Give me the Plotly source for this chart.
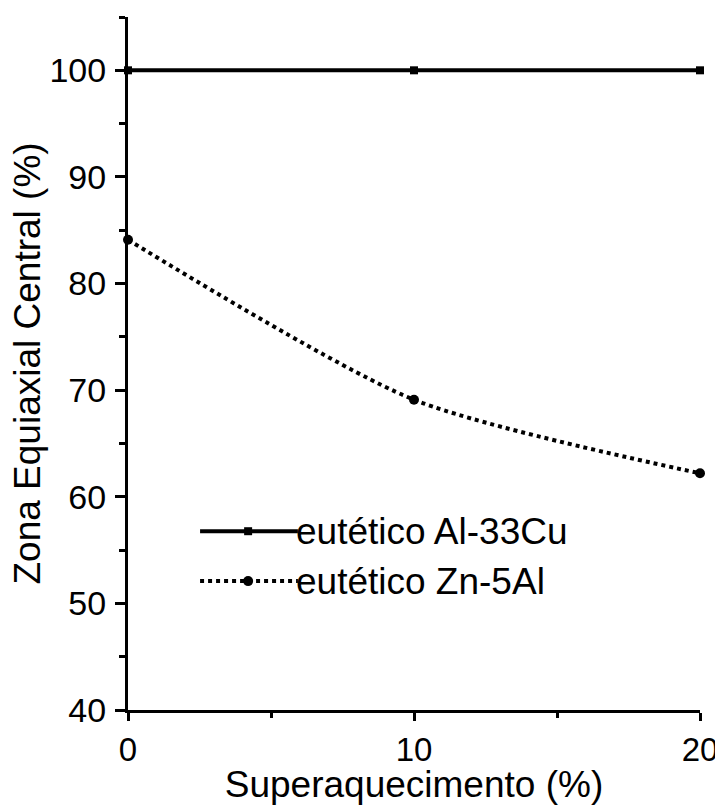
import plotly.graph_objects as go

superaquecimento = [0, 10, 20]
al33cu = [100, 100, 100]
zn5al = [84.1, 69.1, 62.2]
nomes = ["eutético Al-33Cu", "eutético Zn-5Al"]

FONT = "Liberation Sans, Arial, sans-serif"

fig = go.Figure()
fig.add_trace(go.Scatter(
    x=superaquecimento, y=al33cu, mode="lines+markers", name=nomes[0],
    line=dict(color="black", width=4),
    marker=dict(symbol="square", size=8, color="black"),
    cliponaxis=False, showlegend=False))
fig.add_trace(go.Scatter(
    x=superaquecimento, y=zn5al, mode="lines+markers", name=nomes[1],
    line=dict(color="black", width=4, dash="4px,4px", shape="spline", smoothing=0.7),
    marker=dict(symbol="circle", size=10, color="black"),
    cliponaxis=False, showlegend=False))

# manual legend (paper coordinates)
lx0, lx1, lxc = 0.126, 0.297, 0.21
ly = [0.258, 0.186]
fig.add_shape(type="line", xref="paper", yref="paper", x0=lx0, x1=lx1, y0=ly[0], y1=ly[0],
              line=dict(color="black", width=4))
fig.add_shape(type="line", xref="paper", yref="paper", x0=lx0, x1=lx1, y0=ly[1], y1=ly[1],
              line=dict(color="black", width=4, dash="4px,4px"))
fig.add_trace(go.Scatter(
    x=[lxc], y=[ly[0]], xaxis="x2", yaxis="y2", mode="markers",
    marker=dict(symbol="square", size=8, color="black"), showlegend=False, hoverinfo="skip"))
fig.add_trace(go.Scatter(
    x=[lxc], y=[ly[1]], xaxis="x2", yaxis="y2", mode="markers",
    marker=dict(symbol="circle", size=10, color="black"), showlegend=False, hoverinfo="skip"))
for i, n in enumerate(nomes):
    fig.add_annotation(xref="paper", yref="paper", x=lx1, y=ly[i], text=n, showarrow=False,
                       xanchor="left", yanchor="middle", xshift=-4,
                       font=dict(family=FONT, size=37, color="black"))

# y-axis title as annotation for exact placement
fig.add_annotation(xref="paper", yref="paper", x=0, y=0.5, xshift=-101,
                   text="Zona Equiaxial Central (%)", textangle=-90, showarrow=False,
                   xanchor="center", yanchor="middle",
                   font=dict(family=FONT, size=37, color="black"))

fig.update_layout(
    width=715, height=797,
    margin=dict(l=120, r=23, t=9, b=95),
    paper_bgcolor="white", plot_bgcolor="white",
    font=dict(family=FONT, size=34, color="black"),
    xaxis=dict(range=[0, 20], dtick=10, tick0=0, showgrid=False, zeroline=False,
               automargin=False,
               showline=True, linecolor="black", linewidth=3,
               ticks="outside", ticklen=8, tickwidth=3, tickcolor="black",
               minor=dict(dtick=5, ticks="outside", ticklen=5, tickwidth=3, tickcolor="black"),
               tickfont=dict(size=33),
               title=dict(text="Superaquecimento (%)", font=dict(size=37), standoff=4)),
    yaxis=dict(range=[40, 105], dtick=10, tick0=40, showgrid=False, zeroline=False,
               automargin=False,
               showline=True, linecolor="black", linewidth=3,
               ticks="outside", ticklen=10, tickwidth=3, tickcolor="black",
               minor=dict(dtick=5, tick0=40, ticks="outside", ticklen=6, tickwidth=3, tickcolor="black"),
               tickfont=dict(size=34), ticklabelstandoff=2),
    xaxis2=dict(range=[0, 1], domain=[0, 1], overlaying="x", visible=False, anchor="y2"),
    yaxis2=dict(range=[0, 1], domain=[0, 1], overlaying="y", visible=False, anchor="x2"),
)

fig.write_html("out.html")
